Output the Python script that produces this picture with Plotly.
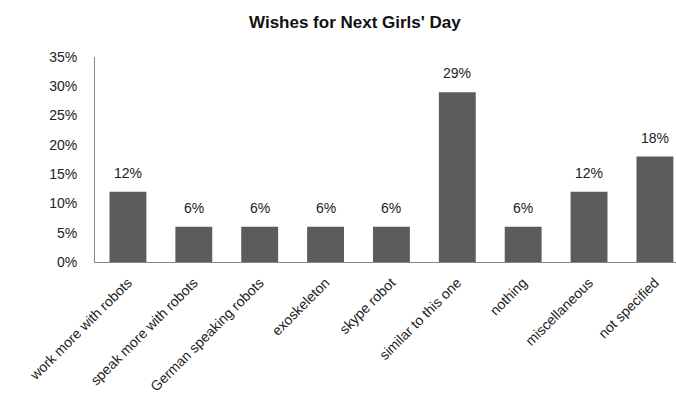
import plotly.graph_objects as go

categories = ["work more with robots", "speak more with robots", "German speaking robots",
              "exoskeleton", "skype robot", "similar to this one", "nothing",
              "miscellaneous", "not specified"]
values = [12, 6, 6, 6, 6, 29, 6, 12, 18]
tick_vals = [0, 5, 10, 15, 20, 25, 30, 35]
tick_text = [f"{v}%" for v in tick_vals]

FONT = "Liberation Sans"

fig = go.Figure(go.Bar(
    x=categories, y=values,
    marker=dict(color="#5c5c5c", line=dict(width=0)),
    cliponaxis=False,
))

for c, v in zip(categories, values):
    fig.add_annotation(x=c, y=v, text=f"{v}%", showarrow=False,
                       yanchor="bottom", yshift=9,
                       font=dict(family=FONT, size=14, color="#222"))

fig.update_layout(
    width=676, height=401,
    margin=dict(l=95, r=0, t=57, b=139),
    paper_bgcolor="white", plot_bgcolor="white",
    bargap=0.44,
    showlegend=False,
    title=dict(text="<b>Wishes for Next Girls' Day</b>", x=0.525, xanchor="center",
               y=0.945, yanchor="middle",
               font=dict(family=FONT, size=17, color="#111")),
    font=dict(family=FONT, size=14, color="#222"),
)
fig.update_xaxes(
    range=[-0.5, 8.32], tickangle=-45, showgrid=False,
    showline=True, linecolor="#888", linewidth=1, ticks="",
    ticklabelstandoff=6,
    tickfont=dict(family=FONT, size=14, color="#222"),
)
fig.update_yaxes(
    range=[0, 35], tickvals=tick_vals, ticktext=tick_text, showgrid=False,
    showline=True, linecolor="#888", linewidth=1, ticks="",
    ticklabelstandoff=14, zeroline=False,
    tickfont=dict(family=FONT, size=14, color="#222"),
)

fig.write_html("out.html")
